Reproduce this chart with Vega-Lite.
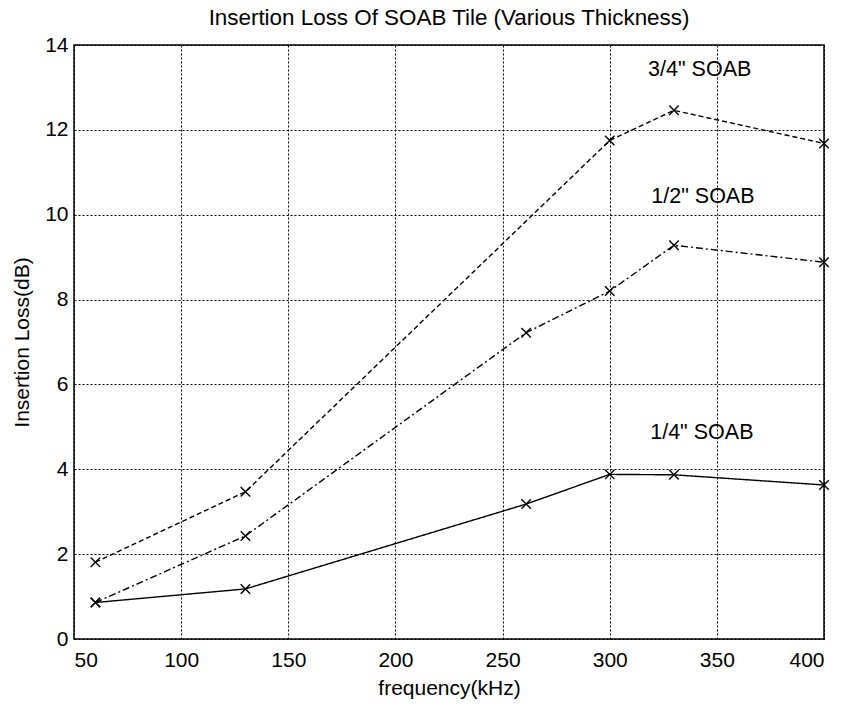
{
  "$schema": "https://vega.github.io/schema/vega-lite/v6.json",
  "autosize": {"type": "none"},
  "padding": {"left": 74, "top": 45, "right": 19, "bottom": 65},
  "width": 750,
  "height": 594,
  "background": "white",
  "title": {
    "text": "Insertion Loss Of SOAB Tile (Various Thickness)",
    "font": "Liberation Sans",
    "fontSize": 22.4,
    "fontWeight": "normal",
    "color": "black",
    "anchor": "middle",
    "offset": 5
  },
  "config": {
    "view": {"stroke": "black", "strokeWidth": 1.5},
    "axis": {
      "labelFont": "Liberation Sans",
      "labelFontSize": 21,
      "labelColor": "black",
      "titleFont": "Liberation Sans",
      "titleFontSize": 21,
      "titleFontWeight": "normal",
      "titleColor": "black",
      "domain": false,
      "ticks": false,
      "grid": true,
      "gridColor": "black",
      "gridOpacity": 1,
      "gridWidth": 1,
      "gridDash": [2, 2]
    }
  },
  "datasets": {
    "series": [
      {"freq": 60, "loss": 1.81, "series": "3/4\" SOAB"},
      {"freq": 130, "loss": 3.47, "series": "3/4\" SOAB"},
      {"freq": 300, "loss": 11.75, "series": "3/4\" SOAB"},
      {"freq": 330, "loss": 12.46, "series": "3/4\" SOAB"},
      {"freq": 400, "loss": 11.68, "series": "3/4\" SOAB"},
      {"freq": 60, "loss": 0.86, "series": "1/2\" SOAB"},
      {"freq": 130, "loss": 2.43, "series": "1/2\" SOAB"},
      {"freq": 261, "loss": 7.22, "series": "1/2\" SOAB"},
      {"freq": 300, "loss": 8.2, "series": "1/2\" SOAB"},
      {"freq": 330, "loss": 9.28, "series": "1/2\" SOAB"},
      {"freq": 400, "loss": 8.88, "series": "1/2\" SOAB"},
      {"freq": 60, "loss": 0.86, "series": "1/4\" SOAB"},
      {"freq": 130, "loss": 1.18, "series": "1/4\" SOAB"},
      {"freq": 261, "loss": 3.18, "series": "1/4\" SOAB"},
      {"freq": 300, "loss": 3.88, "series": "1/4\" SOAB"},
      {"freq": 330, "loss": 3.87, "series": "1/4\" SOAB"},
      {"freq": 400, "loss": 3.63, "series": "1/4\" SOAB"}
    ],
    "labels": [
      {"freq": 342, "loss": 13.4, "label": "3/4\" SOAB"},
      {"freq": 343.5, "loss": 10.42, "label": "1/2\" SOAB"},
      {"freq": 343, "loss": 4.86, "label": "1/4\" SOAB"}
    ]
  },
  "layer": [
    {
      "data": {"name": "series"},
      "mark": {"type": "line", "color": "black"},
      "encoding": {
        "x": {"field": "freq", "type": "quantitative", "title": "frequency(kHz)",
              "scale": {"domain": [50, 400], "nice": false},
              "axis": {"values": [50, 100, 150, 200, 250, 300, 350, 400], "labelPadding": 10, "titlePadding": 7}},
        "y": {"field": "loss", "type": "quantitative", "title": "Insertion Loss(dB)",
              "scale": {"domain": [0, 14], "nice": false},
              "axis": {"values": [0, 2, 4, 6, 8, 10, 12, 14], "labelPadding": 6, "titlePadding": 12}},
        "detail": {"field": "series"},
        "strokeDash": {"field": "series", "type": "nominal", "legend": null,
                       "scale": {"domain": ["3/4\" SOAB", "1/2\" SOAB", "1/4\" SOAB"],
                                 "range": [[5, 3], [7, 3, 2, 3], [1, 0]]}},
        "strokeWidth": {"field": "series", "type": "nominal", "legend": null,
                        "scale": {"domain": ["3/4\" SOAB", "1/2\" SOAB", "1/4\" SOAB"],
                                  "range": [1.4, 1.4, 2.2]}}
      }
    },
    {
      "data": {"name": "series"},
      "mark": {"type": "point", "shape": "M-1,-1L1,1M-1,1L1,-1", "filled": false, "color": "black", "size": 90, "strokeWidth": 1.4, "opacity": 1},
      "encoding": {
        "x": {"field": "freq", "type": "quantitative"},
        "y": {"field": "loss", "type": "quantitative"}
      }
    },
    {
      "data": {"name": "labels"},
      "mark": {"type": "text", "font": "Liberation Sans", "fontSize": 21.5, "color": "black", "align": "center", "baseline": "middle"},
      "encoding": {
        "x": {"field": "freq", "type": "quantitative"},
        "y": {"field": "loss", "type": "quantitative"},
        "text": {"field": "label"}
      }
    }
  ]
}
